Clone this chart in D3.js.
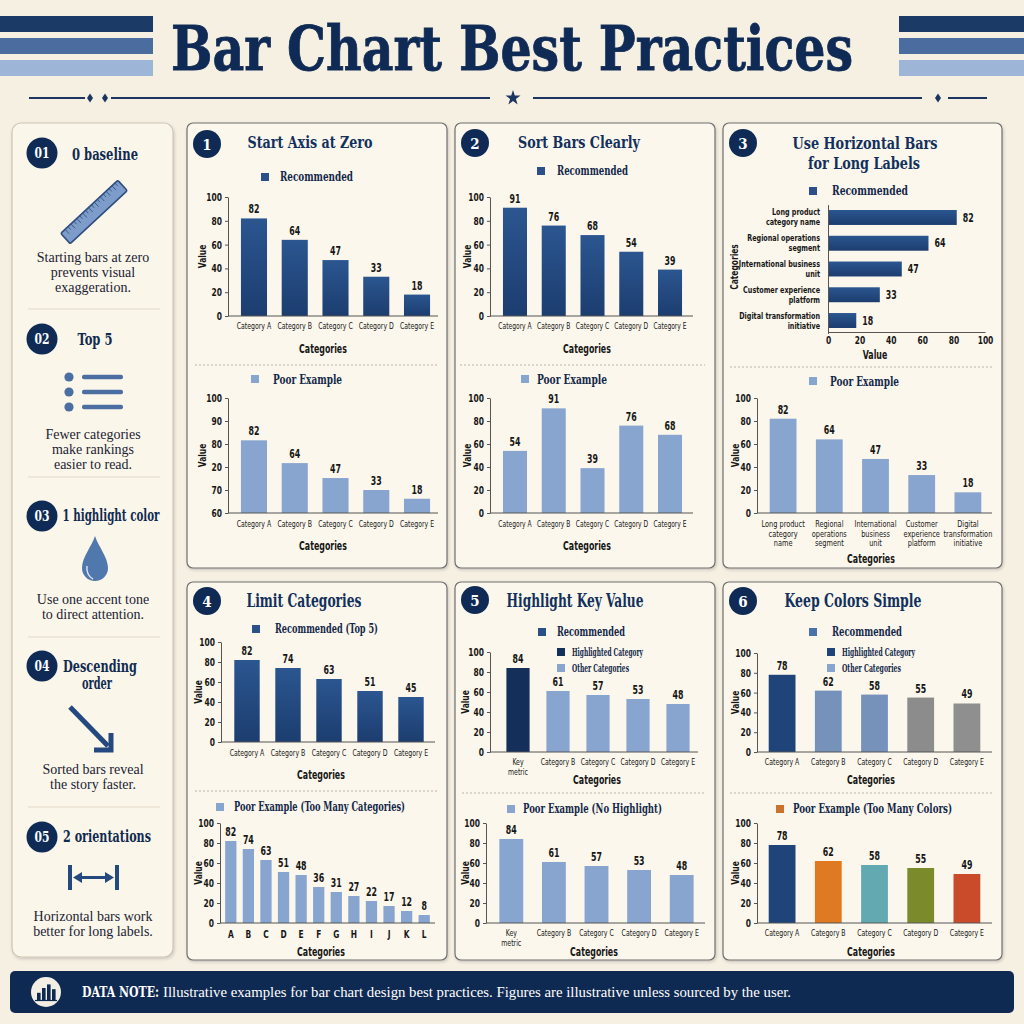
<!DOCTYPE html>
<html><head><meta charset="utf-8">
<script src="https://cdn.jsdelivr.net/npm/d3@7"></script>
<style>html,body{margin:0;padding:0;background:#f6f0e3;}svg{display:block}</style>
</head><body><svg id="c" width="1024" height="1024"></svg>
<script>
// ---------------- DATA ----------------
const mainTitle = "Bar Chart Best Practices";
const catsAE = ["Category A","Category B","Category C","Category D","Category E"];
const valueTicks = [0,20,40,60,80,100];
const p1Recommended = [82,64,47,33,18];
const p1PoorLabels = [82,64,47,33,18];
const p1PoorTickLabels = ["60","70","20","80","90","100"];
const p1PoorBarLevels = [3.16,2.17,1.52,1.0,0.62];
const p2Recommended = [91,76,68,54,39];
const p2PoorValues = [54,91,39,76,68];
const p3TitleLines = ["Use Horizontal Bars","for Long Labels"];
const p3Cats = ["Long product category name","Regional operations segment","International business unit","Customer experience platform","Digital transformation initiative"];
const p3RecLines = [["Long product","category name"],["Regional operations","segment"],["International business","unit"],["Customer experience","platform"],["Digital transformation","initiative"]];
const p3PoorLines = [["Long product","category","name"],["Regional","operations","segment"],["International","business","unit"],["Customer","experience","platform"],["Digital","transformation","initiative"]];
const p3Values = [82,64,47,33,18];
const p4Recommended = [82,74,63,51,45];
const p4PoorCats = ["A","B","C","D","E","F","G","H","I","J","K","L"];
const p4PoorValues = [82,74,63,51,48,36,31,27,22,17,12,8];
const p5Cats = ["Key metric","Category B","Category C","Category D","Category E"];
const p5Lines = [["Key","metric"],["Category B"],["Category C"],["Category D"],["Category E"]];
const p5Values = [84,61,57,53,48];
const p6Values = [78,62,58,55,49];
const sideItems = [
  {num:"01", head:["0 baseline"], body:["Starting bars at zero","prevents visual","exaggeration."]},
  {num:"02", head:["Top 5"], body:["Fewer categories","make rankings","easier to read."]},
  {num:"03", head:["1 highlight color"], body:["Use one accent tone","to direct attention."]},
  {num:"04", head:["Descending","order"], body:["Sorted bars reveal","the story faster."]},
  {num:"05", head:["2 orientations"], body:["Horizontal bars work","better for long labels."]}
];
const footBold = "DATA NOTE:";
const footText = "Illustrative examples for bar chart design best practices. Figures are illustrative unless sourced by the user.";

// ---------------- STYLE ----------------
const SERIF = "'DejaVu Serif Condensed','DejaVu Serif',serif";
const NARROW = "'DejaVu Sans Condensed','Liberation Sans',sans-serif";
const BODY = "'Liberation Serif','DejaVu Serif',serif";
const NAVY = "#12305c", BADGE = "#0f2b55", AX = "#555", TXT = "#161616";
const REC = "url(#recGrad)", POOR = "#88a5cf", KEY = "#14305a";
const p6RecColors = ["#1f4479","#7692bb","#7692bb","#8c8c8c","#8f8f8f"];
const p6PoorColors = ["#1f4479","#df7a22","#62a9b2","#7b8b2b","#c94b2a"];
const SQUEEZE = 0.76, CAT_SQ = 0.83;

const svg = d3.select("#c");
const defs = svg.append("defs");
const gr = defs.append("linearGradient").attr("id","recGrad").attr("x1",0).attr("y1",0).attr("x2",0).attr("y2",1);
gr.append("stop").attr("offset","0").attr("stop-color","#2b5690");
gr.append("stop").attr("offset","1").attr("stop-color","#1c3d6f");
const sh = defs.append("filter").attr("id","shadow").attr("x","-5%").attr("y","-5%").attr("width","110%").attr("height","110%");
sh.append("feDropShadow").attr("dx",1).attr("dy",1.5).attr("stdDeviation",1.5).attr("flood-color","#000").attr("flood-opacity",0.18);

svg.append("rect").attr("width",1024).attr("height",1024).attr("fill","#f6f0e3");

function fit(sel,w){ return sel.attr("textLength",w).attr("lengthAdjust","spacingAndGlyphs"); }
function text(g,x,y,s,o={}){
  const t=g.append("text").attr("x",x).attr("y",y).text(s)
   .attr("font-family",o.ff||SERIF).attr("font-size",o.fs||12).attr("font-weight",o.fw||"bold")
   .attr("fill",o.fill||NAVY).attr("text-anchor",o.anchor||"start");
  if(o.ff===NARROW) t.classed("nar",true).attr("data-sq",SQUEEZE);
  if(o.w) fit(t,o.w);
  return t;
}
function styleNarrow(sel,fs,fw,sq){
  return sel.attr("font-family",NARROW).attr("font-size",fs).attr("font-weight",fw||"bold").attr("fill",TXT)
    .classed("nar",true).attr("data-sq",sq||SQUEEZE);
}

// ---------------- HEADER ----------------
const stripeCols = ["#1b3a66","#4a6c9e","#9db5d6"];
[[16,32],[38,54],[60,76]].forEach((s,i)=>{
  svg.append("rect").attr("x",0).attr("y",s[0]).attr("width",153).attr("height",s[1]-s[0]).attr("fill",stripeCols[i]);
  svg.append("rect").attr("x",899).attr("y",s[0]).attr("width",125).attr("height",s[1]-s[0]).attr("fill",stripeCols[i]);
});
text(svg,512,70,mainTitle,{fs:62,anchor:"middle",w:682,fill:"#0f2a55"}).attr("stroke","#0f2a55").attr("stroke-width",0.8);
const orn = svg.append("g").attr("stroke","#1b3560").attr("stroke-width",2.2);
[[29,85],[111,490],[533,922],[948,987]].forEach(l=>orn.append("line").attr("x1",l[0]).attr("x2",l[1]).attr("y1",98).attr("y2",98));
[90,105,938].forEach(x=>svg.append("path").attr("d",`M${x},93.5L${x+3},98L${x},102.5L${x-3},98Z`).attr("fill","#1b3560"));
svg.append("path").attr("d",d3.symbol(d3.symbolStar,70)()).attr("transform","translate(513,98)").attr("fill","#1b3560");

// ---------------- SIDEBAR ----------------
svg.append("rect").attr("x",12).attr("y",123).attr("width",161).attr("height",834).attr("rx",9)
  .attr("fill","#fbf6ea").attr("stroke","#cdc4b2").attr("stroke-width",1.2).attr("filter","url(#shadow)");
const sideLayout = [
  {cy:153, heads:[[105,160,66]], bodyY:[262,277,292], sep:309},
  {cy:339, heads:[[95,345,35]], bodyY:[439,454,469], sep:477},
  {cy:516, heads:[[111,521,97]], bodyY:[604,619], sep:637},
  {cy:666, heads:[[100,672,74],[97,689,30]], bodyY:[774,789], sep:807},
  {cy:837, heads:[[107,842,88]], bodyY:[921,936]}
];
sideItems.forEach((it,i)=>{
  const L=sideLayout[i];
  svg.append("circle").attr("cx",42).attr("cy",L.cy).attr("r",15.5).attr("fill",BADGE);
  text(svg,42,L.cy+5,it.num,{fs:14,fill:"#fff",anchor:"middle",w:15});
  const h=svg.append("text").attr("font-family",SERIF).attr("font-size",16.5).attr("font-weight","bold").attr("fill","#102a50").attr("text-anchor","middle");
  it.head.forEach((s,k)=>fit(h.append("tspan").attr("x",L.heads[k][0]).attr("y",L.heads[k][1]).text(s),L.heads[k][2]));
  const b=svg.append("text").attr("font-family",BODY).attr("font-size",14).attr("fill","#1a2333").attr("text-anchor","middle");
  it.body.forEach((s,k)=>b.append("tspan").attr("x",93).attr("y",L.bodyY[k]).text(s));
  if(L.sep) svg.append("line").attr("x1",28).attr("x2",160).attr("y1",L.sep).attr("y2",L.sep).attr("stroke","#e3dac8").attr("stroke-width",1);
});
// icons
const ruler = svg.append("g").attr("transform","translate(94,212) rotate(-43)");
ruler.append("rect").attr("x",-39).attr("y",-7).attr("width",78).attr("height",14).attr("rx",1.5).attr("fill","#7d9cc9").attr("stroke","#2f4f80").attr("stroke-width",1.6);
d3.range(-33,36,4).forEach((x,i)=>ruler.append("line").attr("x1",x).attr("x2",x).attr("y1",-7).attr("y2",i%2?-3:-1).attr("stroke","#2f4f80").attr("stroke-width",0.8));
[377,392,407].forEach(y=>{
  svg.append("circle").attr("cx",69).attr("cy",y).attr("r",4.6).attr("fill","#4b6fa3");
  svg.append("rect").attr("x",82).attr("y",y-2.2).attr("width",41).attr("height",4.4).attr("rx",2).attr("fill","#4b6fa3");
});
svg.append("path").attr("d","M95,536 C92,546 82,557 82,568 A13,13 0 0 0 108,568 C108,557 98,546 95,536Z").attr("fill","#5078ad");
svg.append("path").attr("d","M87,566 C86,572 89,577 93,579").attr("fill","none").attr("stroke","#dfe8f4").attr("stroke-width",1.4);
const arr = svg.append("g").attr("stroke","#24497f").attr("stroke-width",5).attr("fill","none");
arr.append("line").attr("x1",70).attr("y1",707).attr("x2",108).attr("y2",746);
arr.append("path").attr("d","M94,750 L111,750 L111,733").attr("stroke-linejoin","miter");
svg.append("rect").attr("x",68).attr("y",865).attr("width",4).attr("height",25).attr("fill","#24497f");
svg.append("rect").attr("x",115).attr("y",865).attr("width",4).attr("height",25).attr("fill","#24497f");
svg.append("line").attr("x1",78).attr("x2",109).attr("y1",877.5).attr("y2",877.5).attr("stroke","#24497f").attr("stroke-width",3);
svg.append("path").attr("d","M73,877.5L82,872L82,883Z M114,877.5L105,872L105,883Z").attr("fill","#24497f");

// ---------------- PANELS ----------------
function frame(x,y,w,h){
  svg.append("rect").attr("x",x).attr("y",y).attr("width",w).attr("height",h).attr("rx",6)
    .attr("fill","#fbf7ec").attr("stroke","#6f6f6f").attr("stroke-width",1.2).attr("filter","url(#shadow)");
}
function badge(cx,cy,n){
  svg.append("circle").attr("cx",cx).attr("cy",cy).attr("r",14).attr("fill",BADGE);
  text(svg,cx,cy+5.5,n,{fs:15,fill:"#fff",anchor:"middle"});
}
function legend(sx,sy,col,tx,ty,label,w,fs){
  svg.append("rect").attr("x",sx).attr("y",sy).attr("width",8).attr("height",8).attr("fill",col);
  text(svg,tx,ty,label,{fs:fs||12.5,w:w,fill:"#13284a"});
}
function sep(x1,x2,y){
  svg.append("line").attr("x1",x1).attr("x2",x2).attr("y1",y).attr("y2",y).attr("stroke","#bdb5a6").attr("stroke-width",1).attr("stroke-dasharray","2,2");
}
function multiLabel(tickSel,linesFor,fs,fw,dy0,lineH,xOff,anchor){
  tickSel.each(function(d,i){
    const g=d3.select(this); g.select("text").remove();
    const lines=linesFor(d,i);
    const t=styleNarrow(g.append("text"),fs,fw,CAT_SQ).attr("text-anchor",anchor||"middle");
    lines.forEach((l,k)=>t.append("tspan").attr("x",xOff||0).attr("y",dy0(lines.length)+k*lineH).attr("dy","0.35em").text(l));
  });
}
function vbar(o){
  const g = svg.append("g");
  const x = d3.scaleBand().domain(o.cats).range([o.r0,o.r1]).paddingInner(1-o.frac).paddingOuter((1-o.frac)/2);
  const y = d3.scaleLinear().domain(o.domain).range([o.yB,o.yT]);
  const ay = g.append("g").attr("transform",`translate(${o.axisX},0)`)
    .call(d3.axisLeft(y).tickValues(o.ticks).tickSizeInner(3).tickSizeOuter(0).tickPadding(3).tickFormat(o.tickFmt||d3.format("d")));
  ay.select(".domain").attr("stroke",AX);
  ay.selectAll(".tick line").attr("stroke",AX);
  styleNarrow(ay.selectAll(".tick text"),11);
  g.selectAll(null).data(o.values).join("rect")
    .attr("x",(d,i)=>x(o.cats[i])).attr("y",d=>y(d)).attr("width",x.bandwidth())
    .attr("height",d=>o.yB-y(d)).attr("fill",(d,i)=>o.fill(i));
  g.append("line").attr("x1",o.axisX).attr("x2",o.axisR).attr("y1",o.yB).attr("y2",o.yB).attr("stroke",AX);
  const ax = g.append("g").attr("transform",`translate(0,${o.yB})`).call(d3.axisBottom(x).tickSize(0));
  ax.select(".domain").remove();
  multiLabel(ax.selectAll(".tick"),(d,i)=>o.lines?o.lines[i]:[d],o.catFs||8.3,o.catFw||"normal",()=>o.catDy,o.lineH||10);
  styleNarrow(g.selectAll(null).data(o.values).join("text"),o.valFs||11.5)
    .attr("x",(d,i)=>x(o.cats[i])+x.bandwidth()/2).attr("y",d=>y(d)-5)
    .attr("text-anchor","middle").text((d,i)=>o.valText? o.valText[i] : d);
  text(g,o.titleX,o.titleY,"Categories",{ff:NARROW,fs:11.5,anchor:"middle",fill:TXT}).attr("dy","0.35em");
  text(g,0,0,"Value",{ff:NARROW,fs:11,anchor:"middle",fill:TXT}).attr("dy","0.35em")
    .attr("transform",`translate(${o.valX},${(o.yB+o.yT)/2}) rotate(-90)`);
}

// Panel 1
frame(187,123,260,445); badge(207,144,"1");
text(svg,310,148,"Start Axis at Zero",{fs:17,anchor:"middle",w:125});
legend(261,173,"#2b5087",280,181,"Recommended",73);
vbar({cats:catsAE,values:p1Recommended,fill:()=>REC,r0:233.6,r1:437.4,frac:0.64,axisX:228,axisR:438,yB:316,yT:197,domain:[0,100],ticks:valueTicks,catDy:10,titleX:323,titleY:349,valX:202});
sep(195,437,365);
legend(251,375,POOR,273,384,"Poor Example",69);
vbar({cats:catsAE,values:p1PoorBarLevels,valText:p1PoorLabels,fill:()=>POOR,r0:233.6,r1:437.4,frac:0.64,axisX:228,axisR:438,yB:513,yT:398,domain:[0,5],ticks:d3.range(6),tickFmt:i=>p1PoorTickLabels[i],catDy:11,titleX:323,titleY:546,valX:202});

// Panel 2
frame(455,123,260,445); badge(475,143,"2");
text(svg,579,148,"Sort Bars Clearly",{fs:17,anchor:"middle",w:122});
legend(537,167,"#2b5087",557,175,"Recommended",71);
vbar({cats:catsAE,values:p2Recommended,fill:()=>REC,r0:495.6,r1:689.4,frac:0.62,axisX:490,axisR:693,yB:316,yT:197,domain:[0,100],ticks:valueTicks,catDy:10,catFs:8,titleX:587,titleY:349,valX:467});
sep(460,705,365);
legend(521,375,POOR,537,384,"Poor Example",70);
vbar({cats:catsAE,values:p2PoorValues,fill:()=>POOR,r0:495.6,r1:689.4,frac:0.62,axisX:490,axisR:693,yB:513,yT:398,domain:[0,100],ticks:valueTicks,catDy:11,catFs:8,titleX:587,titleY:546,valX:467});

// Panel 3
frame(723,123,279,445); badge(743,143,"3");
(function(){
  const t=svg.append("text").attr("font-family",SERIF).attr("font-size",17).attr("font-weight","bold").attr("fill",NAVY).attr("text-anchor","middle");
  fit(t.append("tspan").attr("x",865).attr("y",148.5).text(p3TitleLines[0]),145);
  fit(t.append("tspan").attr("x",864).attr("y",169).text(p3TitleLines[1]),112);
})();
legend(809,187,"#2b5087",832,195,"Recommended",76);
(function(){
  const g = svg.append("g");
  const y = d3.scaleBand().domain(p3Cats).range([204.6,333.4]).paddingInner(0.42).paddingOuter(0.21);
  const x = d3.scaleLinear().domain([0,100]).range([828,985]);
  g.selectAll(null).data(p3Values).join("rect").attr("x",828).attr("y",(d,i)=>y(p3Cats[i]))
    .attr("width",d=>x(d)-828).attr("height",y.bandwidth()).attr("fill",REC);
  styleNarrow(g.selectAll(null).data(p3Values).join("text"),11.5).attr("x",d=>x(d)+6).attr("y",(d,i)=>y(p3Cats[i])+y.bandwidth()/2).attr("dy","0.35em").text(d=>d);
  const ax = g.append("g").attr("transform","translate(0,332)").call(d3.axisBottom(x).tickValues(valueTicks).tickSize(0).tickPadding(4));
  ax.select(".domain").attr("stroke",AX);
  styleNarrow(ax.selectAll(".tick text"),11);
  const ay = g.append("g").attr("transform","translate(828,0)").call(d3.axisLeft(y).tickSize(0).tickPadding(8));
  ay.select(".domain").attr("stroke",AX);
  multiLabel(ay.selectAll(".tick"),(d,i)=>p3RecLines[i],8.6,"bold",n=>-(n-1)*5,10,-8,"end");
  text(g,875,355,"Value",{ff:NARROW,fs:11.5,anchor:"middle",fill:TXT}).attr("dy","0.35em");
  text(g,0,0,"Categories",{ff:NARROW,fs:11,anchor:"middle",fill:TXT}).attr("dy","0.35em").attr("transform","translate(734,267) rotate(-90)");
})();
sep(730,992,367);
legend(809,377,POOR,830,386,"Poor Example",69);
vbar({cats:p3Cats,lines:p3PoorLines,values:p3Values,fill:()=>POOR,r0:760,r1:991,frac:0.58,axisX:757,axisR:992,yB:513,yT:398,domain:[0,100],ticks:valueTicks,catDy:11,lineH:9.7,catFs:8.8,titleX:871,titleY:559,valX:735});

// Panel 4
frame(187,582,260,378); badge(207,601,"4");
text(svg,304,607,"Limit Categories",{fs:18,anchor:"middle",w:115});
legend(252,625,"#2b5087",275,633,"Recommended (Top 5)",103);
vbar({cats:catsAE,values:p4Recommended,fill:()=>REC,r0:226.5,r1:431.5,frac:0.62,axisX:221,axisR:435,yB:742,yT:642,domain:[0,100],ticks:valueTicks,catDy:11,titleX:321,titleY:775,valX:198});
sep(195,437,791);
legend(216,803,POOR,234,811,"Poor Example (Too Many Categories)",171);
vbar({cats:p4PoorCats,values:p4PoorValues,fill:()=>POOR,r0:222,r1:433,frac:0.64,axisX:220,axisR:435,yB:923,yT:823,domain:[0,100],ticks:valueTicks,catDy:11,catFs:10,catFw:"bold",valFs:11.5,titleX:321,titleY:952,valX:198});

// Panel 5
frame(455,582,260,378); badge(475,600,"5");
text(svg,575,607,"Highlight Key Value",{fs:18,anchor:"middle",w:137});
legend(538,628,"#2b5087",557,636,"Recommended",68);
legend(557,648,KEY,572,656,"Highlighted Category",71,10.5);
legend(557,664,POOR,572,672,"Other Categories",57,10.5);
vbar({cats:p5Cats,lines:p5Lines,values:p5Values,fill:i=>i===0?KEY:POOR,r0:498,r1:698,frac:0.58,axisX:490,axisR:698,yB:752,yT:652,domain:[0,100],ticks:valueTicks,catDy:10,titleX:597,titleY:780,valX:465});
sep(462,705,793);
legend(507,805,POOR,523,813,"Poor Example (No Highlight)",139);
vbar({cats:p5Cats,lines:p5Lines,values:p5Values,fill:()=>POOR,r0:490,r1:703,frac:0.56,axisX:486,axisR:705,yB:923,yT:823,domain:[0,100],ticks:valueTicks,catDy:10,titleX:594,titleY:952,valX:465});

// Panel 6
frame(723,582,279,378); badge(743,601,"6");
text(svg,853,607,"Keep Colors Simple",{fs:18,anchor:"middle",w:137});
legend(809,628,"#4a72a8",832,636,"Recommended",70);
legend(827,648,"#1f4479",842,656,"Highlighted Category",73,10.5);
legend(827,664,POOR,842,672,"Other Categories",59,10.5);
vbar({cats:catsAE,values:p6Values,fill:i=>p6RecColors[i],r0:759,r1:990,frac:0.58,axisX:757,axisR:992,yB:752,yT:653,domain:[0,100],ticks:valueTicks,catDy:10,titleX:871,titleY:780,valX:735});
sep(730,992,793);
legend(776,805,"#c8742e",793,813,"Poor Example (Too Many Colors)",159);
vbar({cats:catsAE,values:p6Values,fill:i=>p6PoorColors[i],r0:759,r1:990,frac:0.58,axisX:757,axisR:992,yB:923,yT:823,domain:[0,100],ticks:valueTicks,catDy:10,titleX:871,titleY:952,valX:735});

// ---------------- FOOTER ----------------
svg.append("rect").attr("x",10).attr("y",971).attr("width",1004).attr("height",42).attr("rx",5).attr("fill","#0f2a52");
svg.append("circle").attr("cx",46).attr("cy",992).attr("r",15).attr("fill","#f4efe4");
[[37,6],[42,10],[47,13],[52,9]].forEach(b=>svg.append("rect").attr("x",b[0]).attr("y",1000-b[1]*1.2).attr("width",3.6).attr("height",b[1]*1.2).attr("fill","#0f2a52"));
svg.append("line").attr("x1",35).attr("x2",57).attr("y1",1000.5).attr("y2",1000.5).attr("stroke","#0f2a52").attr("stroke-width",1.2);
text(svg,82,997,footBold,{fs:14,fill:"#fff",w:77});
text(svg,163,997,footText,{ff:BODY,fw:"normal",fs:14,fill:"#fff",w:628});

// narrow condensed-sans labels to mimic the reference's compressed face
svg.selectAll("text.nar").each(function(){
  const sq=+this.getAttribute("data-sq")||SQUEEZE;
  const spans = d3.select(this).selectAll("tspan");
  if(spans.size()){
    spans.each(function(){ const L=this.getComputedTextLength(); d3.select(this).attr("textLength",L*sq).attr("lengthAdjust","spacingAndGlyphs"); });
  } else {
    const L=this.getComputedTextLength();
    d3.select(this).attr("textLength",L*sq).attr("lengthAdjust","spacingAndGlyphs");
  }
});
</script></body></html>
